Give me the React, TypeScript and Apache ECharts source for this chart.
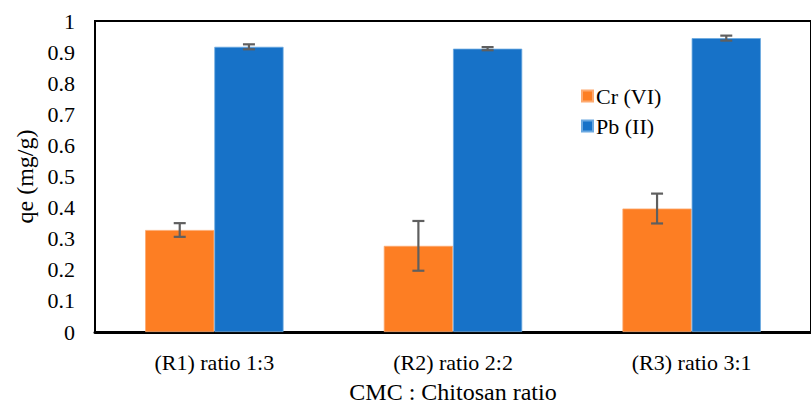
import React, { useEffect, useRef } from "react";
import * as echarts from "echarts";

const categories = ["(R1) ratio 1:3", "(R2) ratio 2:2", "(R3) ratio 3:1"];
const crValues = [0.328, 0.277, 0.397];
const crErrors = [0.022, 0.08, 0.048];
const pbValues = [0.917, 0.911, 0.945];
const pbErrors = [0.008, 0.005, 0.008];
const seriesNames = ["Cr (VI)", "Pb (II)"];

const FONT = "Times New Roman, Liberation Serif, serif";
const BAR_RATIO = 0.29;

function errorSeries(values: number[], errors: number[], side: number) {
  return {
    type: "custom",
    silent: true,
    z: 10,
    data: values.map((v, i) => [i, v - errors[i], v + errors[i]]),
    renderItem: (params: any, api: any) => {
      const idx = api.value(0);
      const low = api.coord([idx, api.value(1)]);
      const high = api.coord([idx, api.value(2)]);
      const band = api.size([1, 0])[0];
      const x = low[0] + side * band * BAR_RATIO / 2;
      const cap = 6;
      const style = { stroke: "#5f5f5f", lineWidth: 2.2 };
      return {
        type: "group",
        children: [
          { type: "line", shape: { x1: x, y1: high[1], x2: x, y2: low[1] }, style },
          { type: "line", shape: { x1: x - cap, y1: high[1], x2: x + cap, y2: high[1] }, style },
          { type: "line", shape: { x1: x - cap, y1: low[1], x2: x + cap, y2: low[1] }, style },
        ],
      };
    },
  };
}

export default function App() {
  const ref = useRef<HTMLDivElement>(null);
  useEffect(() => {
    if (!ref.current) return;
    const chart = echarts.init(ref.current, undefined, { renderer: "svg" });
    chart.setOption({
      animation: false,
      backgroundColor: "#ffffff",
      textStyle: { fontFamily: FONT },
      grid: {
        left: 95,
        top: 21,
        width: 728,
        height: 316,
        show: true,
        borderColor: "#000",
        borderWidth: 2,
        containLabel: false,
      },
      legend: {
        orient: "vertical",
        left: 576,
        top: 80,
        itemWidth: 11,
        itemHeight: 11,
        itemGap: 8,
        icon: "rect",
        data: seriesNames,
        textStyle: { fontFamily: FONT, fontSize: 22, color: "#000", padding: [0, 0, 0, -2] },
      },
      xAxis: {
        type: "category",
        data: categories,
        axisLine: { lineStyle: { color: "#000", width: 3 } },
        axisTick: { show: false },
        axisLabel: { fontFamily: FONT, fontSize: 22, color: "#000", margin: 19 },
        name: "CMC : Chitosan ratio",
        nameLocation: "middle",
        nameGap: 48,
        nameTextStyle: { fontFamily: FONT, fontSize: 24, color: "#000" },
      },
      yAxis: {
        type: "value",
        min: 0,
        max: 1,
        interval: 0.1,
        splitLine: { show: false },
        axisLine: { show: true, lineStyle: { color: "#000", width: 2 } },
        axisTick: { show: false },
        axisLabel: {
          fontFamily: FONT,
          fontSize: 22,
          color: "#000",
          margin: 20,
          formatter: (v: number) => String(Math.round(v * 10) / 10),
        },
        name: "qe (mg/g)",
        nameLocation: "middle",
        nameRotate: 90,
        nameGap: 55,
        nameTextStyle: { fontFamily: FONT, fontSize: 24, color: "#000" },
      },
      series: [
        {
          name: seriesNames[0],
          type: "bar",
          data: crValues,
          barWidth: BAR_RATIO * 100 + "%",
          barGap: "0%",
          itemStyle: { color: "#fd7e23", borderColor: "#fdaa70", borderWidth: 0.8 },
        },
        {
          name: seriesNames[1],
          type: "bar",
          data: pbValues,
          barWidth: BAR_RATIO * 100 + "%",
          barGap: "0%",
          itemStyle: { color: "#1772c8", borderColor: "#6aa8e0", borderWidth: 0.8 },
        },
        errorSeries(crValues, crErrors, -1),
        errorSeries(pbValues, pbErrors, 1),
      ],
    });
    return () => chart.dispose();
  }, []);
  return (
    <div
      ref={ref}
      style={{ position: "fixed", left: 0, top: 0, width: 811, height: 409 }}
    />
  );
}
